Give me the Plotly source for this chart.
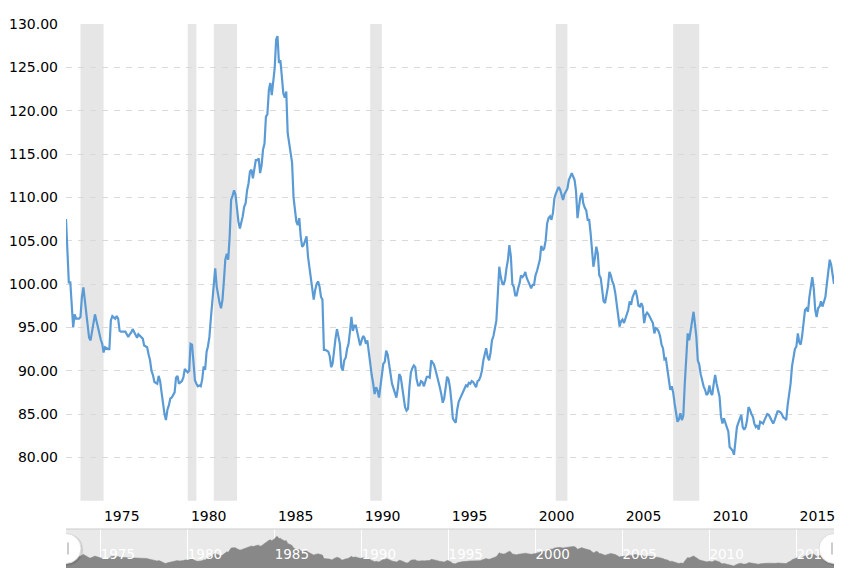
import pandas as pd
import plotly.graph_objects as go

# monthly index values, Jan 1973 .. Mar 2017
start_month = "1973-01-01"
index_values = [
    107.5, 102.7, 100.2, 100.2, 97.5, 95.0, 96.5, 96.0, 96.0, 96.0, 96.2, 98.5,   # 1973
    99.6, 98.1, 96.5, 94.5, 93.8, 93.5, 94.4, 95.5, 96.5, 95.8, 95.0, 94.4,       # 1974
    93.6, 93.1, 92.1, 92.7, 92.6, 92.5, 92.5, 95.8, 96.3, 96.2, 96.0, 96.3,       # 1975
    96.0, 94.6, 94.5, 94.5, 94.5, 94.5, 94.2, 93.9, 94.2, 94.4, 94.8, 94.5,       # 1976
    94.2, 93.8, 94.2, 94.0, 93.9, 93.7, 92.9, 92.8, 92.7, 91.9, 91.2, 90.0,       # 1977
    89.5, 88.7, 88.6, 88.5, 89.4, 88.8, 87.5, 86.0, 85.0, 84.3, 85.5, 86.0,       # 1978
    86.8, 86.9, 87.2, 87.5, 89.2, 89.4, 88.5, 88.6, 88.8, 89.2, 90.2, 90.0,       # 1979
    89.8, 90.0, 93.1, 93.0, 90.5, 88.9, 88.5, 88.2, 88.3, 88.2, 89.0, 90.5,       # 1980
    90.1, 92.2, 92.8, 93.9, 96.0, 98.0, 99.5, 101.8, 99.7, 98.5, 97.8, 97.2,      # 1981
    98.2, 100.5, 102.8, 103.5, 102.8, 105.5, 109.7, 110.2, 110.8, 110.3, 108.5, 107.2,  # 1982
    106.4, 107.0, 107.8, 108.9, 109.3, 110.8, 111.6, 113.0, 113.2, 112.2, 113.3, 114.3,  # 1983
    114.3, 114.5, 112.8, 113.7, 115.5, 116.2, 119.3, 119.6, 122.4, 123.2, 121.8, 123.5,  # 1984
    124.9, 128.2, 128.6, 125.5, 125.8, 123.9, 122.0, 121.5, 122.2, 117.4, 116.2, 115.5,  # 1985
    114.0, 110.0, 108.5, 107.2, 106.8, 107.6, 105.5, 104.3, 104.5, 104.9, 105.5, 103.2,  # 1986
    102.0, 100.5, 99.2, 98.2, 99.3, 100.0, 100.3, 99.7, 98.5, 98.2, 92.4, 92.4,   # 1987
    92.3, 92.2, 91.7, 90.4, 90.8, 92.5, 93.7, 94.8, 94.0, 93.1, 90.4, 90.0,       # 1988
    91.2, 91.5, 92.5, 93.1, 94.5, 96.2, 94.6, 95.2, 95.2, 94.3, 93.5, 92.9,       # 1989
    93.5, 94.0, 93.8, 93.1, 93.5, 92.0, 90.3, 89.5, 88.5, 87.3, 88.1, 87.7,       # 1990
    86.9, 88.5, 90.0, 90.8, 91.0, 92.3, 91.9, 90.5, 89.6, 88.5, 87.9, 87.3,       # 1991
    86.9, 88.0, 89.6, 89.3, 88.2, 86.8, 85.8, 85.4, 85.6, 88.1, 89.8, 90.3,       # 1992
    90.6, 90.4, 89.0, 88.3, 88.3, 88.8, 88.7, 88.2, 88.7, 89.3, 89.3, 89.2,       # 1993
    91.2, 91.0, 90.7, 90.1, 89.5, 88.6, 88.1, 87.3, 86.3, 86.8, 88.0, 89.3,       # 1994
    89.0, 88.0, 86.5, 84.5, 84.2, 84.0, 85.5, 86.4, 86.8, 87.2, 87.5, 88.1,       # 1995
    88.3, 88.2, 88.6, 88.5, 88.8, 88.7, 88.4, 88.1, 88.8, 88.9, 89.3, 90.0,       # 1996
    91.2, 91.8, 92.6, 91.6, 91.2, 92.1, 93.5, 94.0, 94.8, 95.8, 98.9, 102.0,      # 1997
    100.8, 100.1, 99.9, 100.5, 101.8, 102.8, 104.5, 103.2, 100.0, 99.7, 98.7, 98.7,  # 1998
    99.5, 100.1, 101.0, 100.8, 101.0, 101.4, 100.7, 100.2, 99.9, 99.5, 99.9, 99.9,   # 1999
    101.0, 101.5, 102.0, 102.8, 104.4, 103.9, 104.1, 105.0, 107.0, 107.6, 107.8, 107.4,  # 2000
    108.2, 109.9, 110.4, 110.8, 111.2, 110.9, 110.3, 109.7, 110.4, 110.8, 111.0, 112.0,  # 2001
    112.5, 112.8, 112.4, 112.0, 110.7, 107.6, 108.9, 110.1, 110.5, 109.3, 108.8, 108.5,  # 2002
    107.4, 107.4, 106.0, 103.5, 102.0, 103.0, 104.3, 103.5, 101.0, 100.7, 99.3, 98.0,    # 2003
    97.8, 98.9, 99.7, 101.4, 101.0, 100.3, 99.9, 99.0, 97.8, 96.2, 95.1, 95.7,    # 2004
    95.9, 95.5, 96.0, 96.6, 97.0, 98.0, 97.6, 98.5, 99.0, 99.3, 98.6, 97.5,       # 2005
    97.4, 97.8, 97.4, 95.5, 96.4, 96.7, 96.5, 96.1, 95.8, 95.5, 94.3, 94.9,       # 2006
    94.8, 94.5, 94.0, 93.0, 92.6, 91.3, 91.4, 90.3, 89.0, 87.8, 88.2, 87.5,       # 2007
    86.2, 85.0, 84.1, 84.4, 85.1, 84.3, 84.8, 88.5, 91.6, 94.3, 93.5, 94.5,       # 2008
    96.0, 96.8, 95.5, 93.9, 91.2, 90.7, 89.6, 88.8, 88.2, 87.8, 87.2, 87.4,       # 2009
    88.3, 87.4, 87.2, 88.5, 89.5, 88.5, 87.6, 87.0, 84.7, 83.9, 84.5, 83.9,       # 2010
    83.5, 83.0, 81.2, 81.0, 80.8, 80.3, 82.0, 83.5, 84.0, 84.5, 84.9, 83.5,       # 2011
    83.2, 83.5, 84.3, 85.8, 85.5, 85.0, 84.7, 83.9, 83.5, 83.7, 83.2, 84.1,       # 2012
    84.0, 83.9, 84.3, 84.6, 85.0, 84.9, 84.6, 84.3, 83.9, 84.3, 84.7, 85.3,       # 2013
    85.3, 85.2, 85.0, 84.6, 84.5, 84.3, 86.0, 87.0, 88.5, 90.5, 91.5, 92.5,       # 2014
    92.8, 94.3, 93.3, 93.0, 94.0, 96.0, 97.0, 97.2, 96.8, 98.5, 99.7, 100.8,      # 2015
    99.5, 97.0, 96.2, 97.2, 97.4, 98.0, 97.4, 98.0, 98.5, 100.0, 101.5, 102.8,    # 2016
    102.2, 100.8, 100.0,                                                          # 2017
]

recessions = [
    ("1973-11-01", "1975-03-01"),
    ("1980-01-01", "1980-07-01"),
    ("1981-07-01", "1982-11-01"),
    ("1990-07-01", "1991-03-01"),
    ("2001-03-01", "2001-11-01"),
    ("2007-12-01", "2009-06-01"),
]

tick_years = [1975, 1980, 1985, 1990, 1995, 2000, 2005, 2010, 2015]
y_ticks = [75, 80, 85, 90, 95, 100, 105, 110, 115, 120, 125, 130]

dates = pd.date_range(start_month, periods=len(index_values), freq="MS")
x_range = [dates[0], dates[-1]]
tick_dates = [f"{y}-01-01" for y in tick_years]

LINE = "#5b9bd5"
FONT = "DejaVu Sans"

fig = go.Figure()

fig.add_trace(go.Scatter(
    x=dates, y=index_values, mode="lines",
    line=dict(color=LINE, width=2.2),
    xaxis="x", yaxis="y", hoverinfo="x+y",
))

# navigator strip
fig.add_trace(go.Scatter(
    x=dates, y=index_values, mode="lines",
    line=dict(color="#888888", width=0.5),
    fill="tozeroy", fillcolor="#888888",
    xaxis="x2", yaxis="y2", hoverinfo="skip",
))

shapes = []
for s, e in recessions:
    shapes.append(dict(type="rect", xref="x", yref="y domain", x0=s, x1=e, y0=0, y1=1,
                       fillcolor="#e6e6e6", line_width=0, layer="below"))

# navigator background and top border
shapes.append(dict(type="rect", xref="x2 domain", yref="y2 domain", x0=0, x1=1, y0=0, y1=1,
                   fillcolor="#e9e9e9", line_width=0, layer="below"))
shapes.append(dict(type="line", xref="x2 domain", yref="y2 domain", x0=0, x1=1, y0=1, y1=1,
                   line=dict(color="#cccccc", width=1)))

# navigator handles
for anchor in x_range:
    common = dict(xref="x2", yref="y2", xsizemode="pixel", ysizemode="pixel",
                  xanchor=anchor, yanchor=109)
    shapes.append(dict(type="circle", x0=-15, x1=17, y0=-17, y1=15,
                       fillcolor="rgba(0,0,0,0.12)", line_width=0, **common))
    shapes.append(dict(type="circle", x0=-15, x1=15, y0=-15, y1=15,
                       fillcolor="white", line=dict(color="#dddddd", width=1), **common))
    for dx in (-2, 2):
        shapes.append(dict(type="line", x0=dx, x1=dx, y0=-6, y1=6,
                           line=dict(color="#999999", width=1), **common))

fig.update_layout(
    width=863, height=577,
    margin=dict(l=66, r=29, t=24, b=9),
    paper_bgcolor="white", plot_bgcolor="white",
    showlegend=False,
    font=dict(family=FONT, size=14, color="#000000"),
    shapes=shapes,
    xaxis=dict(
        type="date", range=x_range, domain=[0, 1], anchor="y", automargin=False,
        tickvals=tick_dates, ticktext=[str(y) for y in tick_years],
        showgrid=False, zeroline=False, showline=False, ticks="",
        ticklabelshift=21, ticklabelstandoff=5,
    ),
    yaxis=dict(
        range=[75, 130], domain=[0.1237, 1], anchor="x", automargin=False,
        tickvals=y_ticks, ticktext=["" if v == 75 else f"{v:.2f}" for v in y_ticks],
        showgrid=True, gridcolor="#d9d9d9", griddash="6px,6px", gridwidth=1,
        zeroline=False, showline=False, ticks="", ticklabelstandoff=7,
    ),
    xaxis2=dict(
        type="date", range=x_range, domain=[0, 1], anchor="y2", automargin=False,
        tickvals=tick_dates, ticktext=[str(y) for y in tick_years],
        showgrid=True, gridcolor="white", gridwidth=1,
        zeroline=False, showline=False, ticks="",
        ticklabelposition="inside right",
        tickfont=dict(color="white", size=13.5),
    ),
    yaxis2=dict(
        range=[77, 141], domain=[0, 0.0717], anchor="x2", automargin=False,
        showgrid=False, zeroline=False, showticklabels=False,
    ),
)

# the page body has an 8px default margin; drop it so the figure sits at 0,0
fig.write_html("out.html", config={"displayModeBar": False},
               post_script="document.body.style.margin='0px';")
